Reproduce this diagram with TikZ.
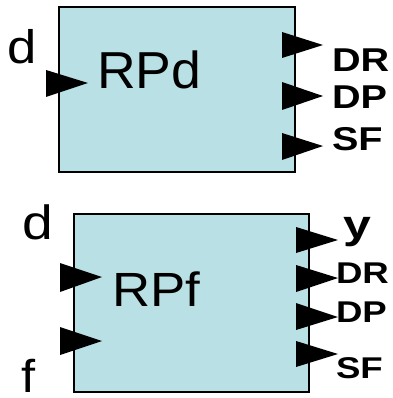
\documentclass[tikz,border=0pt]{standalone}
\usepackage{graphicx}
\usepackage{fontspec}
\setmainfont{Liberation Sans}
\definecolor{boxc}{RGB}{185,224,228}
\newcommand{\wide}[2]{\scalebox{#1}[1]{#2}}
\begin{document}
\begin{tikzpicture}[x=1pt,y=-1pt,
  blk/.style={draw=black,fill=boxc,line width=1.2pt},
  tri/.style={fill=black},
  lbl/.style={anchor=base west,inner sep=0pt,outer sep=0pt},
  sig/.style={lbl,font=\fontsize{33}{35}\selectfont\bfseries},
  sigs/.style={lbl,font=\fontsize{30}{32}\selectfont\bfseries}]
\useasboundingbox (0,0) rectangle (392,398);
% ---------- top block ----------
\draw[blk] (59,7) rectangle (295,172);
\fill[tri] (46,70) -- (88,83) -- (46,97) -- cycle;
\fill[tri] (282,32) -- (323,45) -- (282,58) -- cycle;
\fill[tri] (282,82) -- (323,96) -- (282,110) -- cycle;
\fill[tri] (282,133) -- (323,146) -- (282,160) -- cycle;
\node[lbl,font=\fontsize{47}{50}\selectfont] (d1) at (8,64) {\wide{1.12}{d}};
\node[lbl,font=\fontsize{52}{55}\selectfont] (rpd) at (97,89) {\wide{1.03}{RPd}};
\node[sig] (dr1) at (332,72) {\wide{1.2}{DR}};
\node[sig] (dp1) at (332,109) {\wide{1.2}{DP}};
\node[sig] (sf1) at (332,150) {\wide{1.2}{SF}};
% ---------- bottom block ----------
\draw[blk] (74,214) rectangle (309,392);
\fill[tri] (60,263) -- (102,277) -- (60,292) -- cycle;
\fill[tri] (60,327) -- (102,341) -- (60,355) -- cycle;
\fill[tri] (296,227) -- (338,240) -- (296,253) -- cycle;
\fill[tri] (296,265) -- (338,278) -- (296,292) -- cycle;
\fill[tri] (296,303) -- (338,317) -- (296,330) -- cycle;
\fill[tri] (296,341) -- (338,354) -- (296,367) -- cycle;
\node[lbl,font=\fontsize{48}{52}\selectfont] (d2) at (22,239) {\wide{1.15}{d}};
\node[lbl,font=\fontsize{46}{50}\selectfont] (f2) at (21,392) {\wide{1.1}{f}};
\node[lbl,font=\fontsize{48}{50}\selectfont] (rpf) at (112,306) {\wide{1.1}{RPf}};
\node[lbl,font=\fontsize{40}{42}\selectfont\bfseries] (y2) at (343,238) {\wide{1.25}{y}};
\node[sigs] (dr2) at (336,283) {\wide{1.22}{DR}};
\node[sigs] (dp2) at (336,322) {\wide{1.22}{DP}};
\node[sigs] (sf2) at (336,378) {\wide{1.22}{SF}};
\end{tikzpicture}
\end{document}
